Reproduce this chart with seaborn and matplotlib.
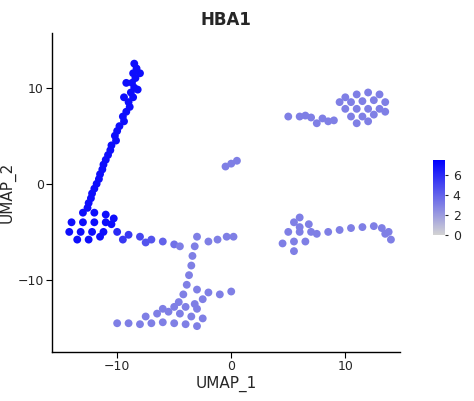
import matplotlib
matplotlib.use("Agg")
import matplotlib.pyplot as plt
import seaborn as sns
import pandas as pd
from matplotlib.colors import LinearSegmentedColormap, Normalize

streak = [(-8.5,12.5),(-8.3,12),(-8.6,11.5),(-8.4,11),(-8.7,10.5),(-8.5,10),(-8.8,9.5),(-8.6,9),(-9,8.5),(-8.9,8),(-9.2,7.5),(-9.5,7),(-9.4,6.5),(-9.8,6),(-10,5.5),(-10.2,5),(-10.1,4.5),(-10.5,4),(-10.6,3.5),(-10.8,3),(-11,2.5),(-11.2,2),(-11.3,1.5),(-11.5,1),(-11.6,0.5),(-11.8,0),(-12,-0.5),(-12.2,-1),(-12.3,-1.5),(-12.5,-2),(-12.6,-2.5),(-9.2,10.5),(-8.0,11.5),(-9.4,9),(-8.2,9.8),
          (-13,-3),(-12,-3),(-11,-3.2),(-14,-4),(-13,-4),(-12,-4),(-11,-4),(-10.5,-4.2),(-14.2,-5),(-13.2,-5),(-12.2,-5),(-11.2,-5),(-13.5,-5.8),(-12.5,-5.8),(-11.5,-5.5),(-10.3,-3.6)]
streak_val = [7.0]*len(streak)
tail = [(-10,-5),(-9,-5.3),(-8,-5.5),(-7,-5.8),(-6,-6),(-5,-6.3),(-4.5,-6.5),(-9.5,-5.8),(-7.5,-6.1)]
tail_val = [6.0,5.5,5.0,4.5,4.0,3.5,3.0,5.5,4.5]
others = [(10,9),(11,9.3),(12,9.5),(13,9.3),(9.5,8.5),(10.5,8.5),(11.5,8.6),(12.5,8.7),(13.5,8.5),(10,7.8),(11,7.8),(12,7.8),(13,7.8),(10.5,7),(11.5,7),(12.5,7.2),(13.5,7.5),(11,6.3),(12,6.5),
          (5,7),(6,7),(7,6.9),(8,6.8),(8.5,6.5),(9,6.6),(7.5,6.3),(6.5,7.1),
          (-0.5,1.8),(0,2.1),(0.5,2.4),
          (4.5,-6.2),(5.5,-6),(5,-5),(5.5,-4),(6,-5),(6.5,-6),(6,-4.5),(7,-5),(7.5,-5.2),(8.5,-5),(9.5,-4.8),(10.5,-4.6),(11.5,-4.5),(12.5,-4.4),(13.2,-4.6),(13.5,-5.2),(14,-5.8),(13.8,-5),(6,-3.5),(5.5,-7),(6.8,-4.2),
          (-2,-6),(-1.2,-5.8),(-0.4,-5.5),(0.2,-5.5),
          (-3,-5.5),(-3.2,-6.5),(-3.4,-7.5),(-3.5,-8.5),(-3.7,-9.5),(-3.9,-10.5),(-4.2,-11.5),(-4.6,-12.3),(-5,-12.8),(-3,-11),(-2,-11.3),(-1,-11.5),(0,-11.2),(-2.5,-12),(-3.2,-12.5),
          (-10,-14.5),(-9,-14.5),(-8,-14.6),(-7,-14.5),(-6,-14.4),(-5,-14.5),(-4,-14.6),(-3,-14.8),(-7.5,-13.8),(-6.5,-13.5),(-5.5,-13.3),(-4.5,-13.5),(-3.5,-13.8),(-2.5,-14),(-6,-13),(-4,-12.8),(-3,-13)]
others_val = [3.0]*len(others)

pts = streak + tail + others
vals = streak_val + tail_val + others_val
df = pd.DataFrame({"UMAP_1": [p[0] for p in pts], "UMAP_2": [p[1] for p in pts], "HBA1": vals})

sns.set_style("white")
cmap = LinearSegmentedColormap.from_list("s", ["#d3d3d3", "#0000ff"])
norm = Normalize(0, 7.5)
fig = plt.figure(figsize=(4.74, 4.01), dpi=100)
ax = fig.add_axes([0.11, 0.122, 0.734, 0.796])
sns.scatterplot(data=df, x="UMAP_1", y="UMAP_2", hue="HBA1", palette=cmap, hue_norm=norm,
                s=32, linewidth=0, legend=False, ax=ax)
ax.set_xlim(-15.7, 14.8)
ax.set_ylim(-17.5, 15.7)
ax.set_xticks([-10, 0, 10]); ax.set_yticks([-10, 0, 10])
for s in ["top", "right"]:
    ax.spines[s].set_visible(False)
for s in ["left", "bottom"]:
    ax.spines[s].set_color("black"); ax.spines[s].set_linewidth(1)
ax.tick_params(axis="both", length=4, color="black", labelsize=9, direction="out", left=True, bottom=True, pad=2)
ax.set_xlabel("UMAP_1", fontsize=11, labelpad=2)
ax.set_ylabel("UMAP_2", fontsize=11, labelpad=1)
ax.set_title("HBA1", fontsize=12, fontweight="bold")
cax = fig.add_axes([0.913, 0.414, 0.026, 0.187])
sm = plt.cm.ScalarMappable(norm=norm, cmap=cmap)
cb = fig.colorbar(sm, cax=cax, ticks=[0, 2, 4, 6])
cb.outline.set_visible(False)
cb.ax.tick_params(labelsize=9, length=2)
fig.savefig("out.png", dpi=100)
